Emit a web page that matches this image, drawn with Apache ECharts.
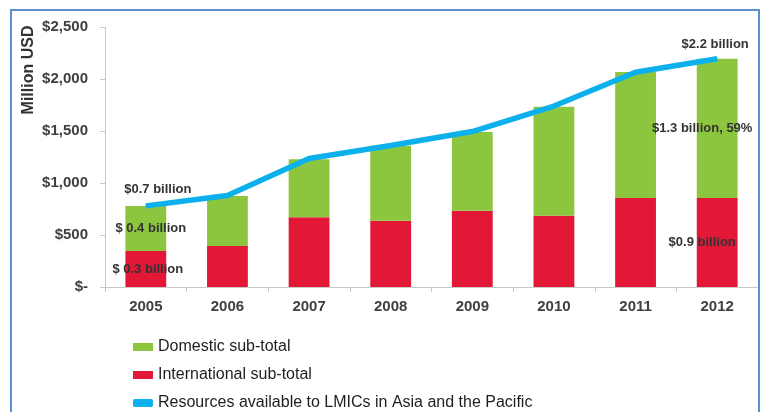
<!DOCTYPE html>
<html>
<head>
<meta charset="utf-8">
<script src="https://cdn.jsdelivr.net/npm/echarts@6/dist/echarts.min.js"></script>
<style>html,body{margin:0;padding:0;background:#fff;}#c{width:763px;height:412px;}</style>
</head>
<body>
<div id="c"></div>
<script>
var years = ['2005','2006','2007','2008','2009','2010','2011','2012'];
var international = [346, 394, 670, 638, 734, 686, 856, 856];
var domestic = [433, 481, 558, 721, 756, 1048, 1211, 1339];
var resources = [780, 880, 1235, 1360, 1495, 1740, 2065, 2195];
var yTicks = ['$-', '$500', '$1,000', '$1,500', '$2,000', '$2,500'];
var notes = {
  line0: '$0.7 billion', dom0: '$ 0.4 billion', int0: '$ 0.3 billion',
  line7: '$2.2 billion', dom7: '$1.3 billion, 59%', int7: '$0.9 billion'
};

var noteStyle = {fontFamily: 'Liberation Sans, Arial, sans-serif', fontSize: 13, fontWeight: 'bold', color: '#333'};
function withLabels(arr, first, last, firstLbl, lastLbl) {
  return arr.map(function (v, i) {
    if (i === 0) return {value: v, label: Object.assign({show: true, formatter: first}, noteStyle, firstLbl)};
    if (i === arr.length - 1) return {value: v, label: Object.assign({show: true, formatter: last}, noteStyle, lastLbl)};
    return v;
  });
}

var chart = echarts.init(document.getElementById('c'));
chart.setOption({
  animation: false,
  backgroundColor: '#fff',
  textStyle: {fontFamily: 'Liberation Sans, Arial, sans-serif'},
  graphic: [
    {type: 'rect', shape: {x: 11, y: 10, width: 748, height: 420}, style: {fill: 'none', stroke: '#5b8fd0', lineWidth: 2}, z: 100},
    {type: 'text', x: 29, y: 70, rotation: Math.PI / 2, style: {text: 'Million USD', fontFamily: 'Liberation Sans, Arial, sans-serif', fontSize: 16, fontWeight: 'bold', fill: '#333', align: 'center', verticalAlign: 'middle'}}
  ],
  grid: {left: 105, right: 5, top: 27, bottom: 125},
  legend: {
    orient: 'vertical', left: 128, top: 334, height: 120, padding: 5, itemGap: 12,
    itemWidth: 20, itemHeight: 8,
    textStyle: {fontSize: 16, color: '#1e1e1e', fontFamily: 'Liberation Sans, Arial, sans-serif'},
    data: [
      {name: 'Domestic sub-total', icon: 'rect'},
      {name: 'International sub-total', icon: 'rect'},
      {name: 'Resources available to LMICs in Asia and the Pacific', icon: 'roundRect'}
    ]
  },
  xAxis: {
    type: 'category', data: years,
    axisLine: {lineStyle: {color: '#c8c8c8'}},
    axisTick: {show: true, length: 5, lineStyle: {color: '#c8c8c8'}},
    axisLabel: {fontSize: 15, fontWeight: 'bold', color: '#404040', margin: 12}
  },
  yAxis: {
    type: 'value', min: 0, max: 2500, interval: 500,
    axisLine: {show: true, lineStyle: {color: '#c8c8c8'}},
    axisTick: {show: true, length: 5, lineStyle: {color: '#c8c8c8'}},
    splitLine: {show: false},
    axisLabel: {fontSize: 15, fontWeight: 'bold', color: '#404040', margin: 17,
      formatter: function (v) { return yTicks[v / 500]; }}
  },
  series: [
    {name: 'International sub-total', type: 'bar', stack: 'a', barWidth: '50%',
      itemStyle: {color: '#e31837'},
      data: withLabels(international, notes.int0, notes.int7, {position: 'inside', offset: [2, 0]}, {position: 'inside', offset: [-15, 0]})},
    {name: 'Domestic sub-total', type: 'bar', stack: 'a', barWidth: '50%',
      itemStyle: {color: '#8cc63f'},
      data: withLabels(domestic, notes.dom0, notes.dom7, {position: 'inside', offset: [5, 0]}, {position: 'inside', offset: [-15, 0]})},
    {name: 'Resources available to LMICs in Asia and the Pacific', type: 'line',
      symbol: 'circle', symbolSize: 1, showSymbol: true,
      lineStyle: {width: 5.5, color: '#0cb0ec'}, itemStyle: {color: '#0cb0ec'},
      z: 5,
      data: withLabels(resources, notes.line0, notes.line7, {position: 'top', offset: [12, -4]}, {position: 'top', offset: [-2, -2]})}
  ]
});
</script>
</body>
</html>
